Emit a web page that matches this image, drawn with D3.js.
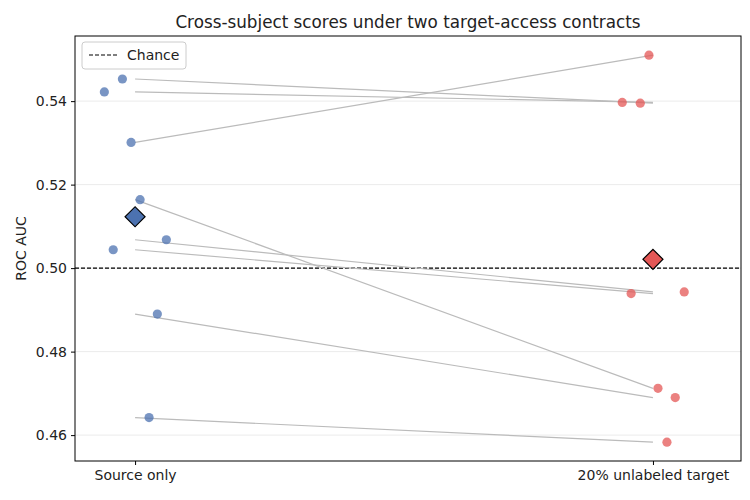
<!DOCTYPE html>
<html>
<head>
<meta charset="utf-8">
<script src="https://cdn.jsdelivr.net/npm/d3@7"></script>
<style>
  body { margin: 0; background: #fff; }
  svg text { font-family: "DejaVu Sans", sans-serif; fill: #222; }
</style>
</head>
<body>
<svg id="chart" width="750" height="500"></svg>
<script>
'use strict';

// conditions on the x axis
var conditions = ["Source only", "20% unlabeled target"];
// per-subject scores (same subject order in both arrays)
var source_scores = [0.5453, 0.5422, 0.5301, 0.5164, 0.5068, 0.5044, 0.4890, 0.4642];
var target_scores = [0.5395, 0.5397, 0.5510, 0.4712, 0.4943, 0.4939, 0.4690, 0.4583];
// horizontal jitter per subject, in category units
var jitter = [-0.0245, -0.0593, -0.0077, 0.0097, 0.0604, -0.0422, 0.043, 0.027];
var y_ticks = [0.46, 0.48, 0.50, 0.52, 0.54];
var chance = 0.5;

var colors = ["#4C72B0", "#E45756"];

var svg = d3.select("#chart");
var m_left = 75, m_right = 741, m_top = 36, m_bottom = 461;

var x = d3.scaleLinear().domain([-0.116, 1.17]).range([m_left, m_right]);
var y = d3.scaleLinear().domain([0.4538, 0.5556]).range([m_bottom, m_top]);

// grid
svg.append("g").selectAll("line").data(y_ticks).enter().append("line")
	.attr("x1", m_left).attr("x2", m_right)
	.attr("y1", function(d){return y(d);}).attr("y2", function(d){return y(d);})
	.attr("stroke", "#e6e6e6").attr("stroke-width", 0.8);

// chance line
svg.append("line")
	.attr("x1", m_left).attr("x2", m_right)
	.attr("y1", y(chance)).attr("y2", y(chance))
	.attr("stroke", "#000").attr("stroke-width", 1.1)
	.attr("stroke-dasharray", "4,2");

// paired lines
svg.append("g").selectAll("line").data(source_scores).enter().append("line")
	.attr("x1", x(0)).attr("x2", x(1))
	.attr("y1", function(d){return y(d);})
	.attr("y2", function(d, i){return y(target_scores[i]);})
	.attr("stroke", "#bbbbbb").attr("stroke-width", 1.2);

// points
[source_scores, target_scores].forEach(function(scores, k){
	svg.append("g").selectAll("circle").data(scores).enter().append("circle")
		.attr("cx", function(d, i){return x(k + jitter[i]);})
		.attr("cy", function(d){return y(d);})
		.attr("r", 4.6)
		.attr("fill", colors[k]).attr("fill-opacity", 0.75);
});

// means
[source_scores, target_scores].forEach(function(scores, k){
	var m = d3.mean(scores);
	svg.append("path")
		.attr("d", d3.symbol().type(d3.symbolSquare).size(200)())
		.attr("transform", "translate(" + x(k) + "," + y(m) + ") rotate(45)")
		.attr("fill", colors[k])
		.attr("stroke", "#000").attr("stroke-width", 1.2);
});

// axes
var y_axis = d3.axisLeft(y).tickValues(y_ticks).tickFormat(d3.format(".2f")).tickSize(4).tickPadding(4);
var gy = svg.append("g").attr("transform", "translate(" + m_left + ",0)").call(y_axis);
gy.select(".domain").remove();
gy.selectAll("text").style("font-size", "14px").attr("fill", "#222");

var x_axis = d3.axisBottom(x).tickValues([0, 1]).tickFormat(function(d){return conditions[d];}).tickSize(4).tickPadding(5);
var gx = svg.append("g").attr("transform", "translate(0," + m_bottom + ")").call(x_axis);
gx.select(".domain").remove();
gx.selectAll("text").style("font-size", "14px").attr("fill", "#222");

// frame
svg.append("rect")
	.attr("x", m_left).attr("y", m_top)
	.attr("width", m_right - m_left).attr("height", m_bottom - m_top)
	.attr("fill", "none").attr("stroke", "#000").attr("stroke-width", 1);

// labels
svg.append("text")
	.attr("x", (m_left + m_right) / 2).attr("y", 28)
	.attr("text-anchor", "middle").style("font-size", "16.8px")
	.text("Cross-subject scores under two target-access contracts");

svg.append("text")
	.attr("transform", "translate(26," + ((m_top + m_bottom) / 2) + ") rotate(-90)")
	.attr("text-anchor", "middle").style("font-size", "14px")
	.text("ROC AUC");

// legend
var lg = svg.append("g").attr("transform", "translate(82,42)");
lg.append("rect").attr("width", 104).attr("height", 27).attr("rx", 3)
	.attr("fill", "#fff").attr("fill-opacity", 0.8).attr("stroke", "#ccc");
lg.append("line").attr("x1", 7).attr("x2", 35).attr("y1", 13).attr("y2", 13)
	.attr("stroke", "#000").attr("stroke-width", 1.1).attr("stroke-dasharray", "4,2");
lg.append("text").attr("x", 45).attr("y", 18).style("font-size", "14px").text("Chance");
</script>
</body>
</html>
